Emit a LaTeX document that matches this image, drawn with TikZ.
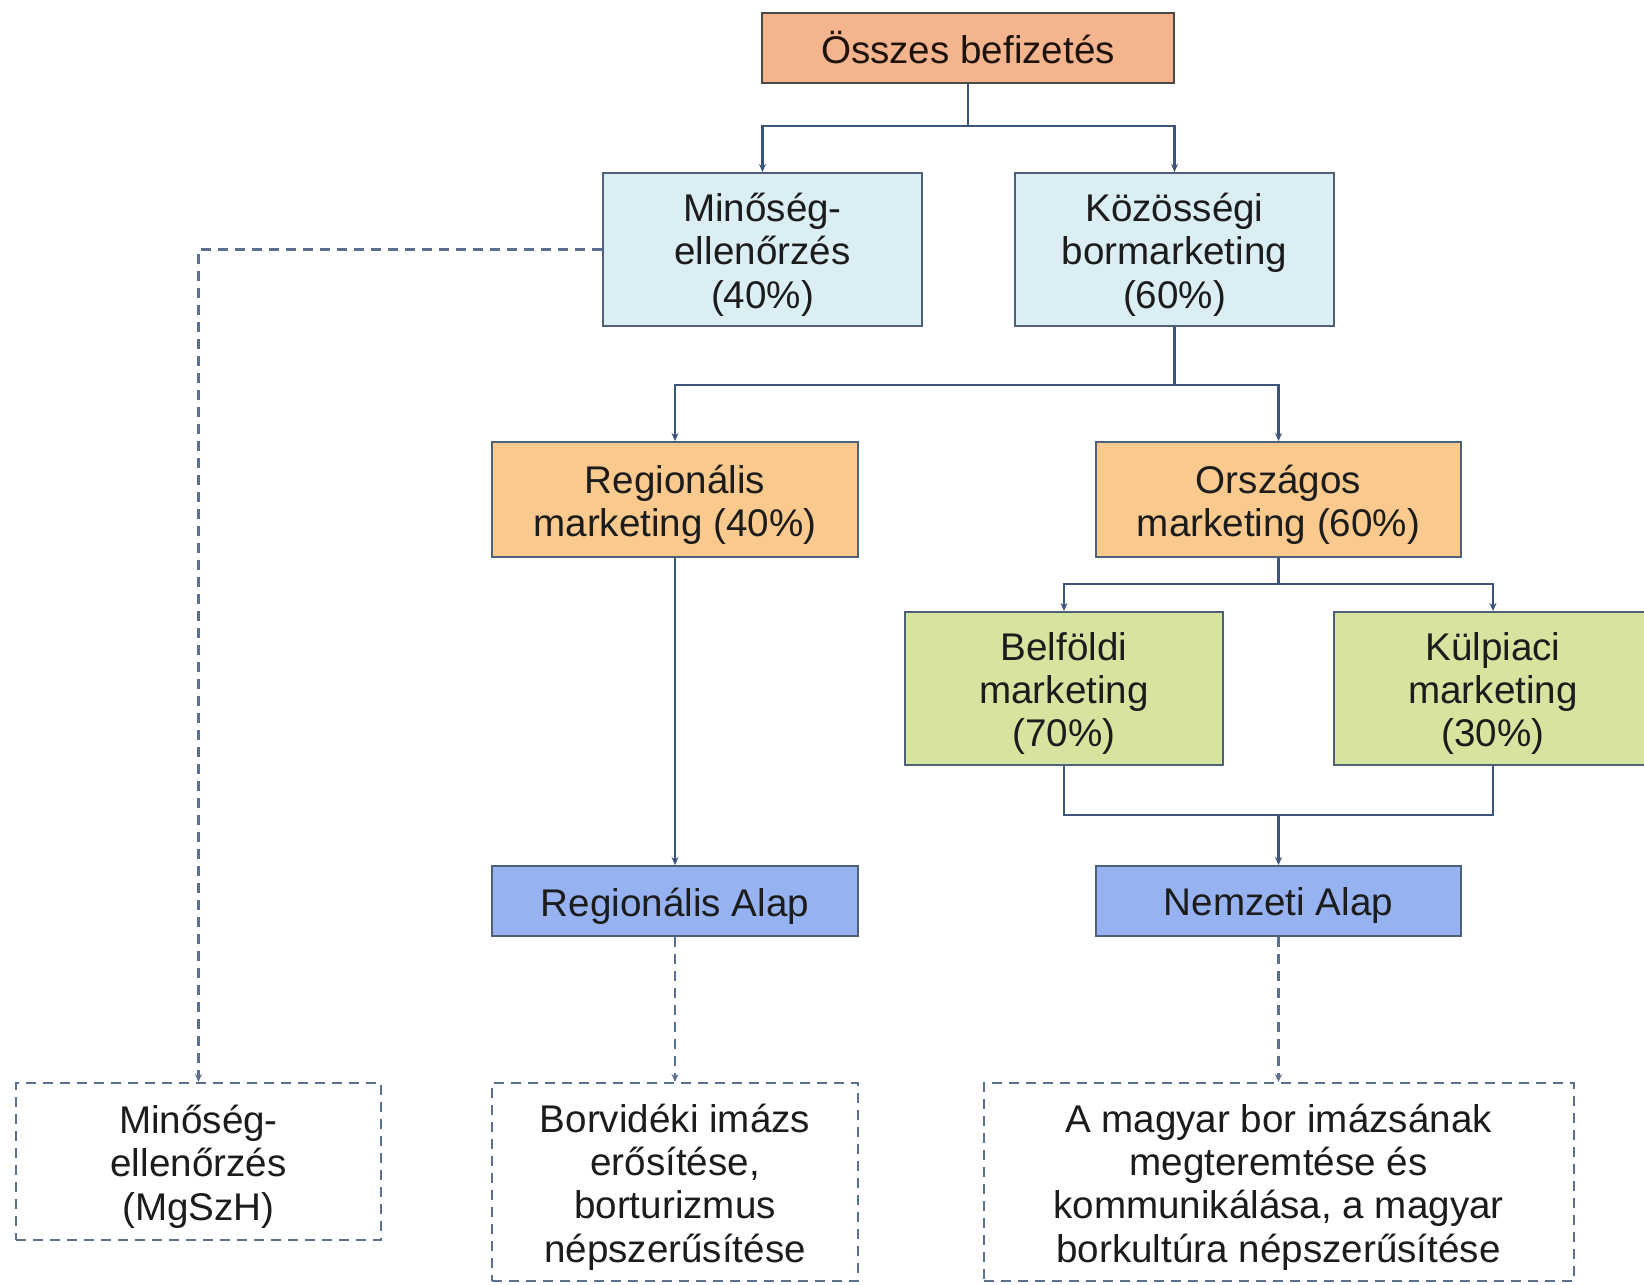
\documentclass[tikz,border=0pt]{standalone}
\usepackage{fontspec}
\setmainfont{Liberation Sans}
\usetikzlibrary{arrows.meta}
\definecolor{cTop}{HTML}{F4B48E}
\definecolor{cLBlue}{HTML}{DBEEF4}
\definecolor{cOrange}{HTML}{F9C98D}
\definecolor{cGreen}{HTML}{D6E4A0}
\definecolor{cBlue}{HTML}{96B2F0}
\definecolor{cBorder}{HTML}{4F6178}
\definecolor{cTopBorder}{HTML}{4A4A4A}
\definecolor{cLine}{HTML}{3B5479}
\definecolor{cDash}{HTML}{5B6F8E}
\definecolor{cText}{HTML}{1C1C1C}
\begin{document}
\begin{tikzpicture}[x=1pt,y=-1pt,
  box/.style={draw=cBorder, line width=2pt, inner sep=0pt},
  txt/.style={inner sep=0pt, align=center, yshift=-5pt,
    font=\fontsize{38.6}{43.4}\selectfont, text=cText},
  tx/.style={label={[txt]center:#1}},
  dbox/.style={box, draw=cDash, fill=white, dash pattern=on 10pt off 7pt},
  conn/.style={draw=cLine, line width=2.5pt},
  arr/.style={conn, -{Stealth[length=8pt,width=7pt]}},
  dconn/.style={draw=cDash, line width=2.5pt, dash pattern=on 10pt off 7pt},
  darr/.style={dconn, -{Stealth[length=8pt,width=7pt]}},
]
\useasboundingbox (0,0) rectangle (1644,1285);
\fill[white] (0,0) rectangle (1644,1285);
\clip (0,0) rectangle (1644,1285);

\node[box, draw=cTopBorder, fill=cTop, minimum width=412pt, minimum height=70pt,
  label={[txt, yshift=5pt, text=black!85!brown]center:Összes befizetés}] (top) at (968,48) {};
\node[box, fill=cLBlue, minimum width=319pt, minimum height=153pt, tx={Minőség-\\ellenőrzés\\(40\%)}] (min) at (762.5,249.5) {};
\node[box, fill=cLBlue, minimum width=319pt, minimum height=153pt, tx={Közösségi\\bormarketing\\(60\%)}] (koz) at (1174.5,249.5) {};
\node[box, fill=cOrange, minimum width=366pt, minimum height=115pt, tx={Regionális\\marketing (40\%)}] (reg) at (675,499.5) {};
\node[box, fill=cOrange, minimum width=365pt, minimum height=115pt, tx={Országos\\marketing (60\%)}] (orsz) at (1278.5,499.5) {};
\node[box, fill=cGreen, minimum width=318pt, minimum height=153pt, tx={Belföldi\\marketing\\(70\%)}] (bel) at (1064,688.5) {};
\node[box, fill=cGreen, minimum width=318pt, minimum height=153pt, tx={Külpiaci\\marketing\\(30\%)}] (kul) at (1493,688.5) {};
\node[box, fill=cBlue, minimum width=366pt, minimum height=70pt, tx={Regionális Alap}] (regalap) at (675,901) {};
\node[box, fill=cBlue, minimum width=365pt, minimum height=70pt, tx={Nemzeti Alap}] (nemz) at (1278.5,901) {};
\node[dbox, minimum width=365pt, minimum height=157pt, tx={Minőség-\\ellenőrzés\\(MgSzH)}] (b1) at (198.5,1161.5) {};
\node[dbox, minimum width=366pt, minimum height=198pt, tx={Borvidéki imázs\\erősítése,\\borturizmus\\népszerűsítése}] (b2) at (675,1182) {};
\node[dbox, minimum width=590pt, minimum height=198pt, tx={A magyar bor imázsának\\megteremtése és\\kommunikálása, a magyar\\borkultúra népszerűsítése}] (b3) at (1278.5,1182) {};

\coordinate (j1) at (968,126);
\draw[conn] (top.south) -- (j1);
\draw[arr] (j1) -| (min.north);
\draw[arr] (j1) -| (koz.north);

\coordinate (j2) at (1174.5,385);
\draw[conn] (koz.south) -- (j2);
\draw[arr] (j2) -| (reg.north);
\draw[arr] (j2) -| (orsz.north);

\coordinate (j3) at (1278.5,584);
\draw[conn] (orsz.south) -- (j3);
\draw[arr] (j3) -| (bel.north);
\draw[arr] (j3) -| (kul.north);

\coordinate (j4) at (1278.5,815);
\draw[conn] (bel.south) |- (j4);
\draw[conn] (kul.south) |- (j4);
\draw[arr] (j4) -- (nemz.north);

\draw[arr] (reg.south) -- (regalap.north);

\draw[darr] (regalap.south) -- (b2.north);
\draw[darr] (nemz.south) -- (b3.north);
\draw[darr] (min.west) -| (b1.north);
\end{tikzpicture}
\end{document}
